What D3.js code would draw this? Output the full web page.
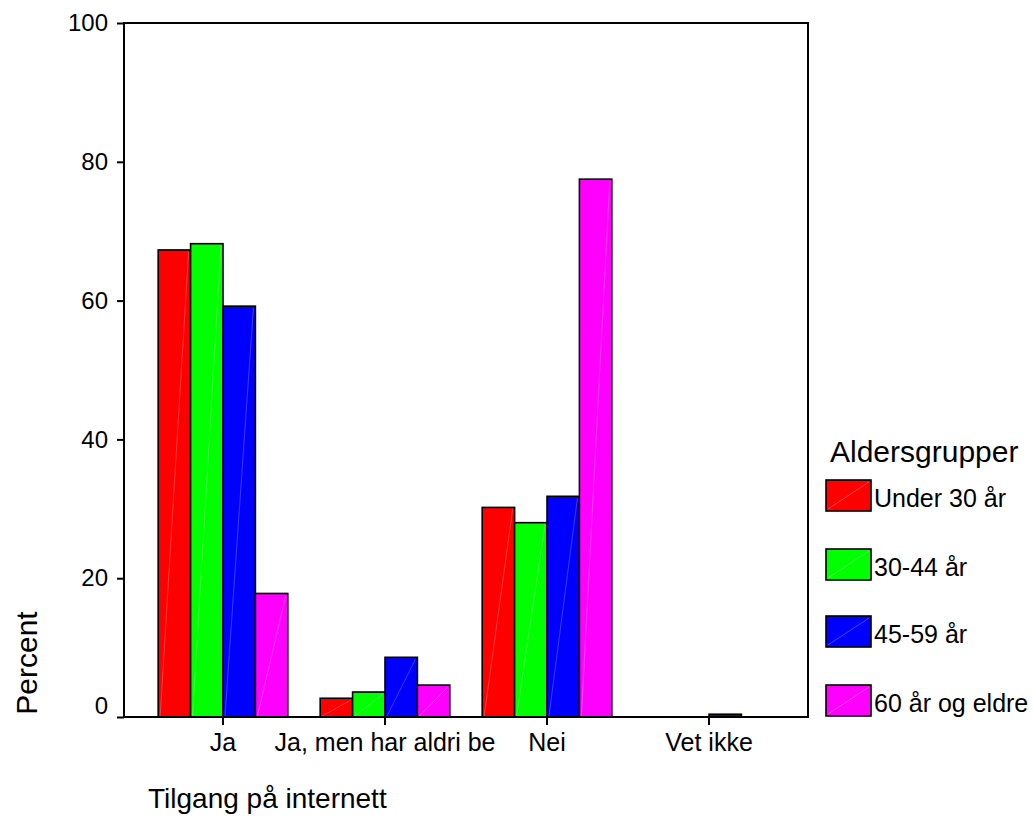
<!DOCTYPE html>
<html>
<head>
<meta charset="utf-8">
<script src="https://cdn.jsdelivr.net/npm/d3@7"></script>
<style>
  body { margin: 0; background: #fff; }
  svg { display: block; }
  text { font-family: "Liberation Sans", Arial, sans-serif; fill: #000; }
</style>
</head>
<body>
<svg id="chart" width="1033" height="836"></svg>
<script>
const categories = ["Ja", "Ja, men har aldri be", "Nei", "Vet ikke"];
const seriesNames = ["Under 30 år", "30-44 år", "45-59 år", "60 år og eldre"];
const seriesColors = ["#ff0000", "#00ff00", "#0000ff", "#ff00ff"];
const under30 = [67.3, 2.7, 30.2, 0];
const age30to44 = [68.2, 3.6, 28.0, 0];
const age45to59 = [59.2, 8.6, 31.8, 0.4];
const age60plus = [17.8, 4.6, 77.5, 0];
const yTicks = [0, 20, 40, 60, 80, 100];
const seriesValues = [under30, age30to44, age45to59, age60plus];

const svg = d3.select("#chart");
const pLeft = 124, pRight = 808, pTop = 23, pBottom = 717;

const x = d3.scaleBand().domain(categories).range([pLeft, pRight])
  .paddingInner(0.2).paddingOuter(0.211);
const xSub = d3.scaleBand().domain(seriesNames).range([0, x.bandwidth()]);
const y = d3.scaleLinear().domain([0, 100]).range([pBottom, pTop]);

const rows = [];
categories.forEach((c, ci) => {
  seriesNames.forEach((s, si) => {
    rows.push({cat: c, series: s, color: seriesColors[si], value: seriesValues[si][ci]});
  });
});

// bars
const bars = svg.append("g");
bars.selectAll("rect").data(rows).enter().append("rect")
  .attr("x", d => x(d.cat) + xSub(d.series))
  .attr("y", d => y(d.value))
  .attr("width", xSub.bandwidth())
  .attr("height", d => y(0) - y(d.value))
  .attr("fill", d => d.color)
  .attr("stroke", "#000")
  .attr("stroke-width", 1.6);
bars.selectAll("line").data(rows.filter(d => d.value > 1)).enter().append("line")
  .attr("x1", d => x(d.cat) + xSub(d.series) + 2)
  .attr("y1", y(0) - 1)
  .attr("x2", d => x(d.cat) + xSub(d.series) + xSub.bandwidth() - 2)
  .attr("y2", d => y(d.value) + 2)
  .attr("stroke", "#fff").attr("stroke-opacity", 0.3).attr("stroke-width", 0.8);

// frame
svg.append("rect").attr("x", pLeft).attr("y", pTop)
  .attr("width", pRight - pLeft).attr("height", pBottom - pTop)
  .attr("fill", "none").attr("stroke", "#000").attr("stroke-width", 2);

// y axis
const yAxis = svg.append("g").attr("transform", `translate(${pLeft},0)`)
  .call(d3.axisLeft(y).tickValues(yTicks).tickSize(7).tickPadding(9).tickFormat(d3.format("d")));
yAxis.select(".domain").remove();
yAxis.selectAll(".tick line").attr("stroke", "#000").attr("stroke-width", 2);
yAxis.selectAll(".tick text").attr("font-size", 24).style("font-family", "Liberation Sans, Arial, sans-serif")
  .attr("dy", d => d === 0 ? "-4px" : "0.32em");

// x axis
const xAxis = svg.append("g").attr("transform", `translate(0,${pBottom})`)
  .call(d3.axisBottom(x).tickSize(8).tickPadding(8));
xAxis.select(".domain").remove();
xAxis.selectAll(".tick line").attr("stroke", "#000").attr("stroke-width", 2);
xAxis.selectAll(".tick text").attr("font-size", 25).style("font-family", "Liberation Sans, Arial, sans-serif");

// axis titles
svg.append("text").attr("transform", "translate(37,663) rotate(-90)")
  .attr("text-anchor", "middle").attr("font-size", 30).text("Percent");
svg.append("text").attr("x", 148).attr("y", 808)
  .attr("font-size", 28).text("Tilgang på internett");

// legend
svg.append("text").attr("x", 830).attr("y", 462).attr("font-size", 30).text("Aldersgrupper");
const legendY = [480, 549, 616, 685];
const lg = svg.append("g").selectAll("g").data(seriesNames).enter().append("g")
  .attr("transform", (d, i) => `translate(826,${legendY[i]})`);
lg.append("rect").attr("width", 45).attr("height", 31)
  .attr("fill", (d, i) => seriesColors[i]).attr("stroke", "#000").attr("stroke-width", 1.6);
lg.append("line").attr("x1", 2).attr("y1", 29).attr("x2", 43).attr("y2", 2)
  .attr("stroke", "#fff").attr("stroke-opacity", 0.35).attr("stroke-width", 0.8);
lg.append("text").attr("x", 48).attr("y", 27).attr("font-size", 25).text(d => d);
</script>
</body>
</html>
